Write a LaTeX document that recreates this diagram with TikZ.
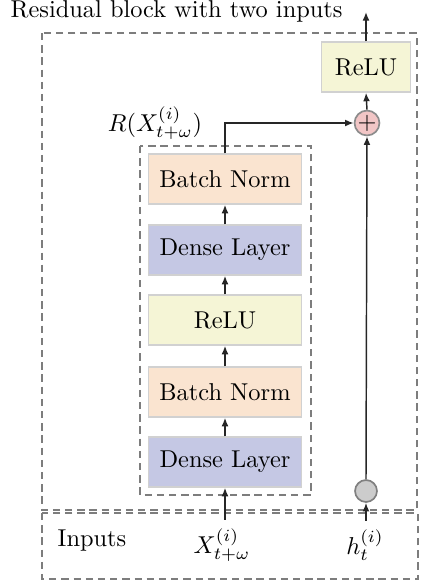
\documentclass[tikz,border=0pt]{standalone}
\usetikzlibrary{arrows.meta}
\definecolor{bnfill}{RGB}{250,228,208}
\definecolor{dlfill}{RGB}{197,200,228}
\definecolor{relufill}{RGB}{245,245,214}
\definecolor{plusfill}{RGB}{242,198,198}
\definecolor{dashgray}{RGB}{125,125,125}
\begin{document}
\begin{tikzpicture}[x=0.41pt,y=-0.41pt,
  layer/.style={draw=black!18, line width=0.6pt, minimum width=62.7pt, minimum height=20.5pt, inner sep=0pt},
  conn/.style={-{Latex[length=3.5pt,width=2.8pt]}, line width=0.6pt, black!85},
  frame/.style={dashgray, line width=0.9pt, dash pattern=on 3pt off 2pt}]
\useasboundingbox (0,0) rectangle (423,583);
\node[anchor=base west] (title) at (2,17) {Residual block with two inputs};
\draw[frame] (42,33) rectangle (417,510);
\draw[frame] (42,513) rectangle (418,579);
\draw[frame] (140,146) rectangle (311,495);
\node[layer, fill=dlfill] (dl1) at (225,462) {Dense Layer};
\node[layer, fill=bnfill] (bn1) at (225,392) {Batch Norm};
\node[layer, fill=relufill] (relu1) at (225,320) {ReLU};
\node[layer, fill=dlfill] (dl2) at (225,250) {Dense Layer};
\node[layer, fill=bnfill] (bn2) at (225,179) {Batch Norm};
\node[circle, draw=black!45, line width=0.7pt, fill=plusfill, minimum size=9.8pt, inner sep=0pt] (plus) at (367,123) {$+$};
\node[layer, fill=relufill, minimum width=36.5pt] (relu2) at (366,67) {ReLU};
\node[circle, draw=black!50, line width=0.7pt, fill=black!20, minimum size=9pt, inner sep=0pt] (skip) at (366,491) {};
\node (x) at (222,545) {$X^{(i)}_{t+\omega}$};
\node (h) at (365,545) {$h^{(i)}_t$};
\node (inp) at (92,541) {Inputs};
\node (R) at (155,123) {$R(X^{(i)}_{t+\omega})$};
\coordinate (out) at (366,12);
\draw[conn] (dl1.south |- x.north) -- (dl1.south);
\draw[conn] (dl1) -- (bn1);
\draw[conn] (bn1) -- (relu1);
\draw[conn] (relu1) -- (dl2);
\draw[conn] (dl2) -- (bn2);
\draw[conn] (bn2.north) |- (plus.west);
\draw[conn] (skip.south |- h.north) -- (skip.south);
\draw[conn] (skip.north) -- (plus.south);
\draw[conn] (plus.north) -- (relu2.south);
\draw[conn] (relu2.north) -- (out);
\end{tikzpicture}
\end{document}
